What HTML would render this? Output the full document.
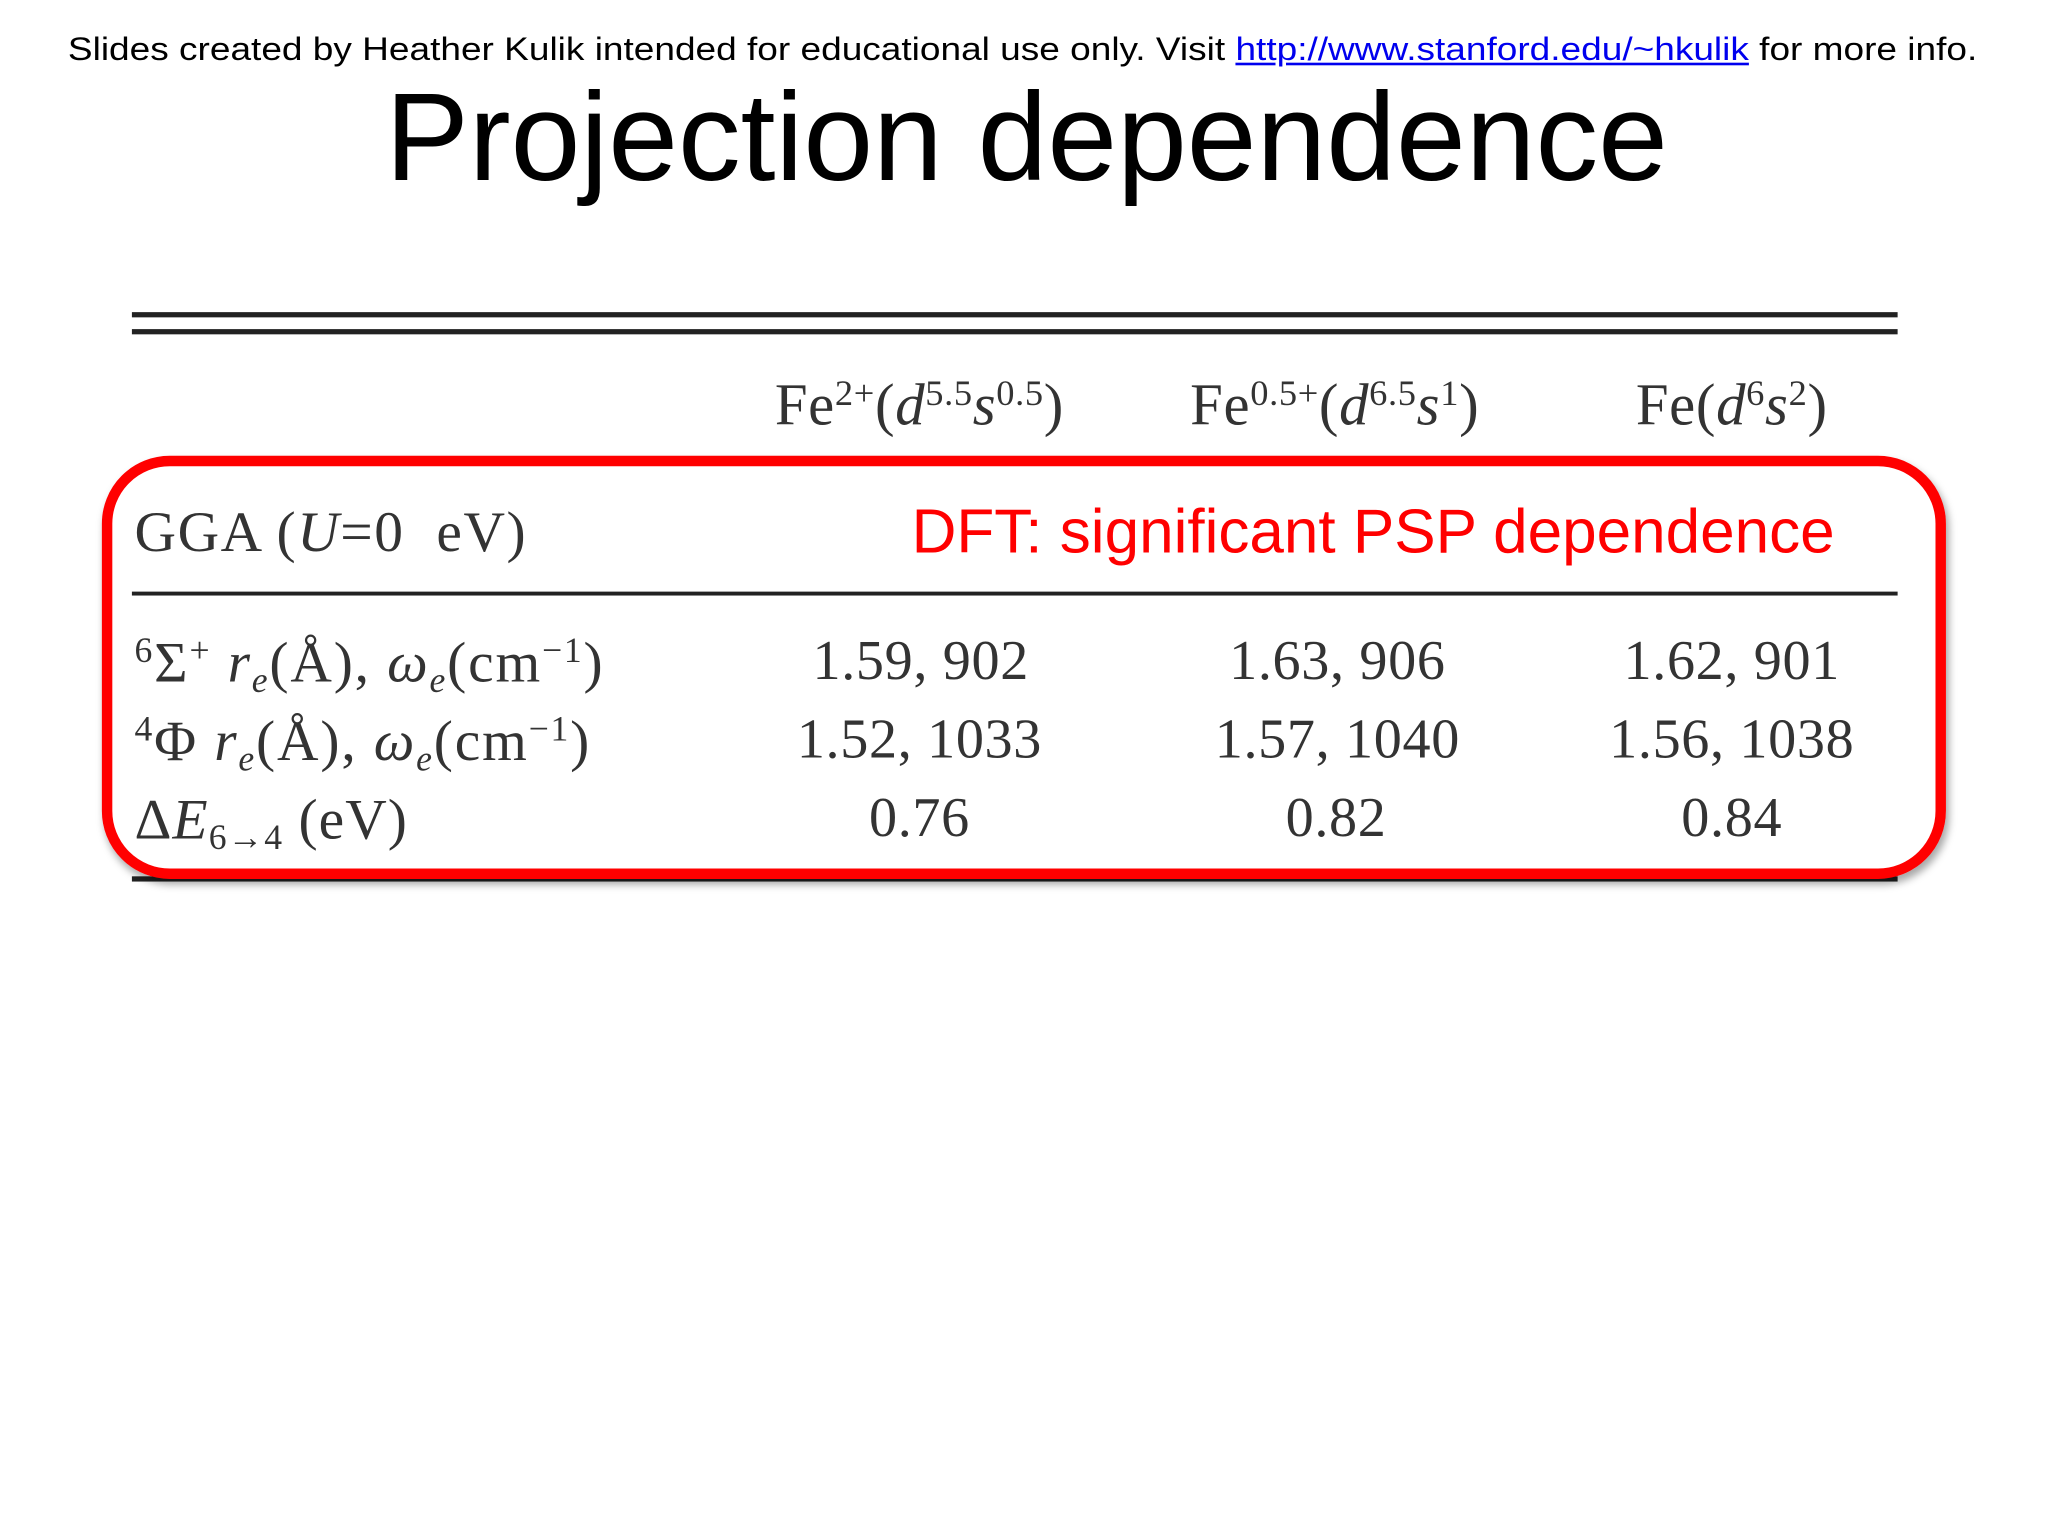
<!DOCTYPE html>
<html><head><meta charset="utf-8"><style>
html,body{margin:0;padding:0;background:#fff;width:2048px;height:1536px;overflow:hidden}
#s{position:absolute;left:0;top:0;width:1568px;height:1176px;transform:scale(1.306);transform-origin:0 0}
.a{position:absolute;white-space:nowrap}
.sans{font-family:"Liberation Sans",sans-serif}
.ser{font-family:"Liberation Serif",serif;color:#333}
.rule{position:absolute;left:101px;width:1352px;background:#222}
.c{transform:translateX(-50%)}
sup{font-size:62%;vertical-align:0;position:relative;top:-0.55em}
sub{font-size:62%;vertical-align:0;position:relative;top:0.3em}
</style></head><body>
<div id="s">
<div class="a sans" style="left:52px;top:25px;font-size:24.5px;color:#000;transform:scaleX(1.157);transform-origin:0 0">Slides created by Heather Kulik intended for educational use only. Visit <a style="color:#00e;text-decoration:underline">http://www.stanford.edu/~hkulik</a> for more info.</div>
<div class="a sans" style="left:295px;top:51px;font-size:96px;color:#000">Projection dependence</div>
<div class="rule" style="top:239px;height:4px"></div>
<div class="rule" style="top:252px;height:4px"></div>
<div class="a ser c" style="left:704px;top:284px;font-size:45px;letter-spacing:0.5px">Fe<sup>2+</sup>(<i>d</i><sup>5.5</sup><i>s</i><sup>0.5</sup>)</div>
<div class="a ser c" style="left:1022px;top:284px;font-size:45px;letter-spacing:0.5px">Fe<sup>0.5+</sup>(<i>d</i><sup>6.5</sup><i>s</i><sup>1</sup>)</div>
<div class="a ser c" style="left:1326px;top:284px;font-size:45px;letter-spacing:0.5px">Fe(<i>d</i><sup>6</sup><i>s</i><sup>2</sup>)</div>
<div class="a ser" style="left:103px;top:382px;font-size:44px;letter-spacing:1.2px">GGA (<i>U</i>=0&nbsp; eV)</div>
<div class="a sans" style="left:698px;top:380px;font-size:47.5px;color:#f00">DFT: significant PSP dependence</div>
<div class="rule" style="top:453px;height:3px"></div>
<div class="a ser" style="left:103px;top:482px;font-size:44px;letter-spacing:1.4px"><sup>6</sup>Σ<sup>+</sup> <i>r<sub>e</sub></i>(Å), <i>ω<sub>e</sub></i>(cm<sup>−1</sup>)</div>
<div class="a ser" style="left:103px;top:542px;font-size:44px;letter-spacing:1.4px"><sup>4</sup>Φ <i>r<sub>e</sub></i>(Å), <i>ω<sub>e</sub></i>(cm<sup>−1</sup>)</div>
<div class="a ser" style="left:103px;top:602px;font-size:44px;letter-spacing:0.8px">Δ<i>E</i><sub>6→4</sub> (eV)</div>
<div class="a ser c" style="left:705px;top:482px;font-size:43px;letter-spacing:0.5px">1.59, 902</div>
<div class="a ser c" style="left:1024px;top:482px;font-size:43px;letter-spacing:0.5px">1.63, 906</div>
<div class="a ser c" style="left:1326px;top:482px;font-size:43px;letter-spacing:0.5px">1.62, 901</div>
<div class="a ser c" style="left:704px;top:542px;font-size:43px;letter-spacing:0.5px">1.52, 1033</div>
<div class="a ser c" style="left:1024px;top:542px;font-size:43px;letter-spacing:0.5px">1.57, 1040</div>
<div class="a ser c" style="left:1326px;top:542px;font-size:43px;letter-spacing:0.5px">1.56, 1038</div>
<div class="a ser c" style="left:704px;top:602px;font-size:43px;letter-spacing:0.5px">0.76</div>
<div class="a ser c" style="left:1023px;top:602px;font-size:43px;letter-spacing:0.5px">0.82</div>
<div class="a ser c" style="left:1326px;top:602px;font-size:43px;letter-spacing:0.5px">0.84</div>
<div class="rule" style="top:671px;height:4px"></div>
<div class="a" style="left:78px;top:349px;width:1396px;height:308px;border:8px solid #f00;border-radius:52px;box-shadow:2px 4px 6px rgba(0,0,0,0.35)"></div>
</div>
</body></html>
